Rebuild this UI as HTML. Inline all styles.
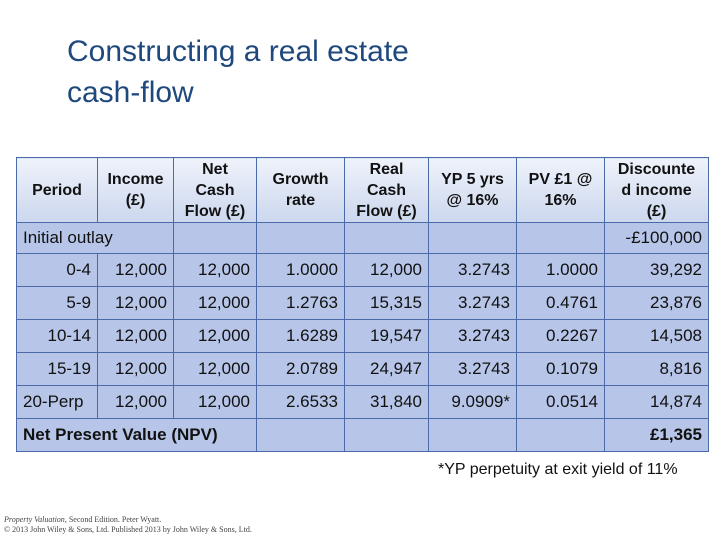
<!DOCTYPE html>
<html><head><meta charset="utf-8"><style>
body{margin:0;width:720px;height:540px;background:#fff;position:relative;overflow:hidden;font-family:"Liberation Sans",Arial,sans-serif}
#title{position:absolute;left:67px;top:31px;font-size:30px;line-height:41px;color:#1f497d}
table{position:absolute;left:16px;top:157px;border-collapse:collapse;table-layout:fixed;width:692px}
td{border:1.5px solid #4a6aa8;background:#b6c5e8;font-size:17px;color:#111;padding:0 6px;text-align:right;white-space:nowrap;overflow:visible}
tr.h td{background:linear-gradient(#eef2fa,#ccd7ee);font-weight:bold;text-align:center;font-size:16px;line-height:21px;padding:0 2px}
tr.i td{height:30px;padding-top:0}
tr.d td{height:32px}
tr.n td{height:32px;font-weight:bold}
#foot{position:absolute;left:438px;top:461px;font-size:16px;color:#111;white-space:nowrap}
#cred{position:absolute;left:4px;top:515px;font-family:"Liberation Serif",serif;font-size:8px;line-height:10px;color:#444}
</style></head><body>
<div id="title">Constructing a real estate<br>cash-flow</div>
<table>
<colgroup><col style="width:81px"><col style="width:76px"><col style="width:83px"><col style="width:88px"><col style="width:84px"><col style="width:88px"><col style="width:88px"><col style="width:104px"></colgroup>
<tr class="h" style="height:65px"><td>Period</td><td>Income<br>(£)</td><td>Net<br>Cash<br>Flow (£)</td><td>Growth<br>rate</td><td>Real<br>Cash<br>Flow (£)</td><td>YP 5 yrs<br>@ 16%</td><td>PV £1 @<br>16%</td><td>Discounte<br>d income<br>(£)</td></tr>
<tr class="i"><td colspan="2" style="text-align:left">Initial outlay</td><td></td><td></td><td></td><td></td><td></td><td>-£100,000</td></tr>
<tr class="d"><td>0-4</td><td>12,000</td><td>12,000</td><td>1.0000</td><td>12,000</td><td>3.2743</td><td>1.0000</td><td>39,292</td></tr>
<tr class="d"><td>5-9</td><td>12,000</td><td>12,000</td><td>1.2763</td><td>15,315</td><td>3.2743</td><td>0.4761</td><td>23,876</td></tr>
<tr class="d"><td>10-14</td><td>12,000</td><td>12,000</td><td>1.6289</td><td>19,547</td><td>3.2743</td><td>0.2267</td><td>14,508</td></tr>
<tr class="d"><td>15-19</td><td>12,000</td><td>12,000</td><td>2.0789</td><td>24,947</td><td>3.2743</td><td>0.1079</td><td>8,816</td></tr>
<tr class="d"><td style="text-align:left">20-Perp</td><td>12,000</td><td>12,000</td><td>2.6533</td><td>31,840</td><td>9.0909*</td><td>0.0514</td><td>14,874</td></tr>
<tr class="n"><td colspan="3" style="text-align:left">Net Present Value (NPV)</td><td></td><td></td><td></td><td></td><td>£1,365</td></tr>
</table>
<div id="foot">*YP perpetuity at exit yield of 11%</div>
<div id="cred"><i>Property Valuation</i>, Second Edition. Peter Wyatt.<br>© 2013 John Wiley &amp; Sons, Ltd. Published 2013 by John Wiley &amp; Sons, Ltd.</div>
</body></html>
